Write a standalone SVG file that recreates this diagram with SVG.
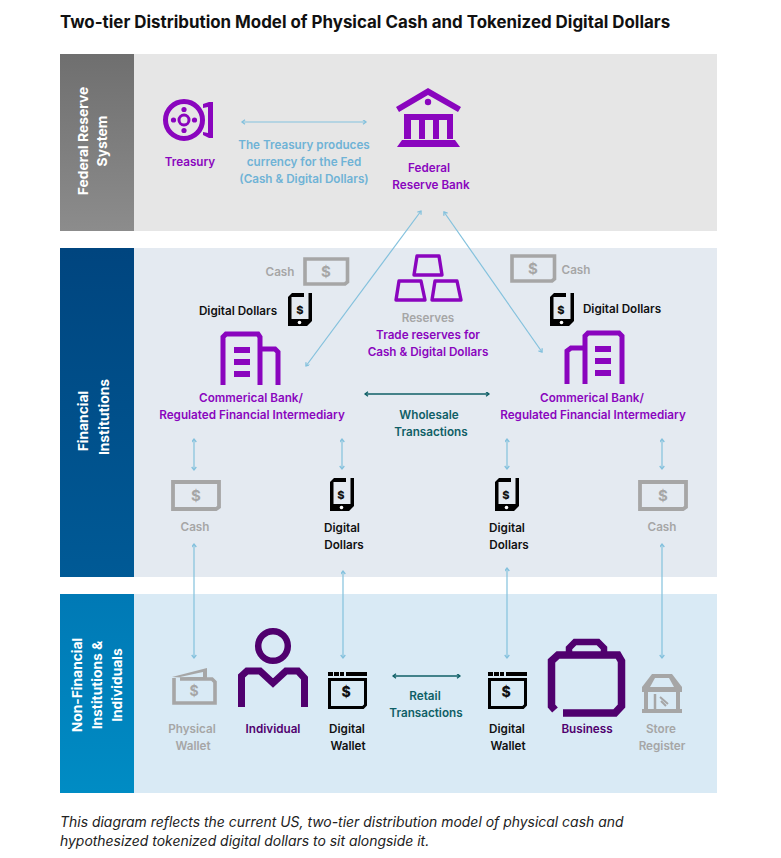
<svg xmlns="http://www.w3.org/2000/svg" width="781" height="858" viewBox="0 0 781 858">
<style>
text{font-family:"Inter","Liberation Sans",sans-serif;font-weight:600;font-size:11.700px;text-anchor:middle}
.pur{fill:#8a05be}.dpur{fill:#50006e}.gry{fill:#a6a6a6}.blk{fill:#111}.blu{fill:#6fb3d6}.teal{fill:#0f5f66}
.side{fill:#fff;font-size:13.800px;font-weight:700}
.d{font-size:15px;font-weight:700}
.p{font-size:11px;font-weight:800}
.w{font-size:14px;font-weight:800}
.ln{stroke:#83c1dd;stroke-width:1.200;fill:none;marker-start:url(#a);marker-end:url(#a)}
.tl{stroke:#0f5f66;stroke-width:1.300;fill:none;marker-start:url(#t);marker-end:url(#t)}
</style>
<defs>
<marker id="a" markerWidth="6" markerHeight="6" refX="4" refY="2.500" orient="auto-start-reverse" markerUnits="userSpaceOnUse"><path d="M1 0.200L4 2.500L1 4.800" fill="none" stroke="#83c1dd" stroke-width="1.300"/></marker>
<marker id="t" markerWidth="6" markerHeight="6" refX="4" refY="2.500" orient="auto-start-reverse" markerUnits="userSpaceOnUse"><path d="M1 0.200L4 2.500L1 4.800" fill="none" stroke="#0f5f66" stroke-width="1.300"/></marker>
<linearGradient id="g1" x1="0" y1="0" x2="0" y2="1"><stop offset="0" stop-color="#6f6f6f"/><stop offset="1" stop-color="#8c8c8c"/></linearGradient>
<linearGradient id="g2" x1="0" y1="0" x2="0" y2="1"><stop offset="0" stop-color="#00457f"/><stop offset="1" stop-color="#005a96"/></linearGradient>
<linearGradient id="g3" x1="0" y1="0" x2="0" y2="1"><stop offset="0" stop-color="#0079b5"/><stop offset="1" stop-color="#008cc4"/></linearGradient>
<g id="cash"><path d="M2 2H44.500V25L42 27H2Z" fill="none" stroke="#a6a6a6" stroke-width="3.600"/></g>
<g id="cash2"><path d="M2 2H48V27L45 29H2Z" fill="none" stroke="#a6a6a6" stroke-width="3.800"/></g>
<g id="phone"><path d="M4 0H16V4H3.500V26H20.500V0H24V28L19 33H0V4Z" fill="#000"/><circle cx="11.500" cy="29.500" r="1.800" fill="#fff"/></g>
<g id="wal"><path d="M0 0H5V4H0ZM6 0H11V4H6ZM12 0H16V4H12ZM18 0H39V4H18Z" fill="#000"/><path d="M1.500 7.500H37.500V33L35 35.500H1.500Z" fill="none" stroke="#000" stroke-width="3"/></g>
</defs>
<rect width="781" height="858" fill="#fff"/>
<text x="60" y="28" style="text-anchor:start;font-size:16.900px;font-weight:700" fill="#111">Two-tier Distribution Model of Physical Cash and Tokenized Digital Dollars</text>

<g id="bands">
<rect x="60" y="54" width="657" height="177" fill="#e6e6e6"/><rect x="60" y="54" width="74" height="177" fill="url(#g1)"/>
<rect x="60" y="248" width="657" height="329" fill="#e4eaf1"/><rect x="60" y="248" width="74" height="329" fill="url(#g2)"/>
<rect x="60" y="594" width="657" height="199" fill="#d9eaf5"/><rect x="60" y="594" width="74" height="199" fill="url(#g3)"/>
<text class="side" transform="translate(88 141) rotate(-90)">Federal Reserve</text>
<text class="side" transform="translate(107 141) rotate(-90)">System</text>
<text class="side" transform="translate(88 421) rotate(-90)">Financial</text>
<text class="side" transform="translate(109 417) rotate(-90)">Institutions</text>
<text class="side" transform="translate(82 685) rotate(-90)">Non-Financial</text>
<text class="side" transform="translate(102 685) rotate(-90)">Institutions &amp;</text>
<text class="side" transform="translate(122 685) rotate(-90)">Individuals</text>
</g>

<g id="connectors">
<path class="ln" d="M242 122H366"/>
<path class="ln" d="M421 211L306 366"/>
<path class="ln" d="M444 212L542 352"/>
<path class="tl" d="M365 394H489"/>
<path class="tl" d="M393 676H460"/>
<path class="ln" d="M194 439V470"/><path class="ln" d="M342 439V469"/><path class="ln" d="M507 439V469"/><path class="ln" d="M662 439V469"/>
<path class="ln" d="M194 544V658"/><path class="ln" d="M343 571V658"/><path class="ln" d="M507 568V658"/><path class="ln" d="M662 544V658"/>
</g>

<g id="treasury">
<circle cx="184" cy="120" r="18.500" fill="none" stroke="#8a05be" stroke-width="5"/>
<circle cx="184" cy="120" r="5" fill="none" stroke="#8a05be" stroke-width="3"/>
<circle cx="184" cy="109.500" r="2.600" class="pur"/><circle cx="184" cy="130.500" r="2.600" class="pur"/><circle cx="173.500" cy="120" r="2.600" class="pur"/><circle cx="194.500" cy="120" r="2.600" class="pur"/>
<path d="M203 104L209 102H213V138H209L203 135V132L208 133V107L203 108Z" class="pur"/>
<text x="190" y="165.500" class="pur">Treasury</text>
</g>

<g id="treasury-note">
<text x="304" y="148.500" class="blu">The Treasury produces</text>
<text x="304" y="165.500" class="blu">currency for the Fed</text>
<text x="304" y="182.500" class="blu">(Cash &amp; Digital Dollars)</text>
</g>

<g id="federal-reserve-bank">
<path d="M396 107L428 88L461 107L458 112L428 95L399 112Z" class="pur"/>
<circle cx="428" cy="102" r="3.200" class="pur"/>
<path d="M404 114H453V139H447V120H439V139H433V120H425V139H419V120H411V139H404Z" class="pur"/>
<path d="M402 140H455L460 147H397Z" class="pur"/>
<text x="429" y="171.500" class="pur">Federal</text>
<text x="431" y="188.500" class="pur">Reserve Bank</text>
</g>

<g id="cash-left">
<text x="280" y="275.500" class="gry">Cash</text>
<use href="#cash" x="303" y="257"/><text x="326" y="277" class="gry d">$</text>
</g>
<g id="digital-left">
<text x="238" y="314.500" class="blk">Digital Dollars</text>
<use href="#phone" x="288" y="293"/><text x="300" y="314" class="blk p">$</text>
</g>
<g id="bank-left">
<path d="M223 385V337L226 334H258L260 337V385M262 349H275L278 352V385" fill="none" stroke="#8a05be" stroke-width="5"/>
<path d="M234 347H250V353H234ZM234 359H250V365H234ZM234 371H250V377H234Z" class="pur"/>
<text x="251" y="401.500" class="pur">Commerical Bank/</text>
<text x="252" y="418.500" class="pur">Regulated Financial Intermediary</text>
</g>

<g id="reserves">
<path d="M417 256H439L442 275H414Z M399 281H421L425 300H396Z M435 281H457L461 300H432Z" fill="none" stroke="#8a05be" stroke-width="3.400" stroke-linejoin="round"/>
<text x="428" y="321.500" class="gry">Reserves</text>
<text x="428" y="338.500" class="pur">Trade reserves for</text>
<text x="428" y="355.500" class="pur">Cash &amp; Digital Dollars</text>
</g>

<g id="cash-right">
<use href="#cash" x="510" y="254"/><text x="533" y="274" class="gry d">$</text>
<text x="576" y="273.500" class="gry">Cash</text>
</g>
<g id="digital-right">
<use href="#phone" x="550" y="293"/><text x="561" y="314" class="blk p">$</text>
<text x="622" y="312.500" class="blk">Digital Dollars</text>
</g>
<g id="bank-right">
<path d="M622 384V336L619 333H588L585 336V384M583 348H571L567 351V384" fill="none" stroke="#8a05be" stroke-width="5"/>
<path d="M595 346H611V352H595ZM595 358H611V364H595ZM595 370H611V376H595Z" class="pur"/>
<text x="592" y="401.500" class="pur">Commerical Bank/</text>
<text x="593" y="418.500" class="pur">Regulated Financial Intermediary</text>
</g>

<g id="wholesale">
<text x="429" y="418.500" class="teal">Wholesale</text>
<text x="431" y="435.500" class="teal">Transactions</text>
</g>

<g id="fi-cash-left">
<use href="#cash2" x="171" y="480"/><text x="196" y="501" class="gry d">$</text>
<text x="195" y="530.500" class="gry">Cash</text>
</g>
<g id="fi-digital-left">
<use href="#phone" x="330" y="478"/><text x="341" y="499" class="blk p">$</text>
<text x="342" y="531.500" class="blk">Digital</text><text x="344" y="548.500" class="blk">Dollars</text>
</g>
<g id="fi-digital-right">
<use href="#phone" x="495" y="478"/><text x="506" y="499" class="blk p">$</text>
<text x="507" y="531.500" class="blk">Digital</text><text x="509" y="548.500" class="blk">Dollars</text>
</g>
<g id="fi-cash-right">
<use href="#cash2" x="638" y="480"/><text x="663" y="501" class="gry d">$</text>
<text x="662" y="530.500" class="gry">Cash</text>
</g>

<g id="physical-wallet">
<path d="M174 678V703H215V682L212 679H180" fill="none" stroke="#a6a6a6" stroke-width="3.600"/>
<path d="M172 677L207 668V679Z" fill="#a6a6a6"/><path d="M180 677L203 672V677Z" fill="#d9eaf5"/>
<text x="194" y="696" class="gry" style="font-size:14px;font-weight:700">$</text>
<text x="192" y="732.500" class="gry">Physical</text><text x="193" y="749.500" class="gry">Wallet</text>
</g>
<g id="individual">
<circle cx="273" cy="646" r="14.800" fill="none" stroke="#50006e" stroke-width="6.500"/>
<path d="M241.500 707V676L247 671H260L273 683L286 671H298L304.500 678V707" fill="none" stroke="#50006e" stroke-width="7"/>
<text x="273" y="732.500" class="dpur">Individual</text>
</g>
<g id="wallet-left">
<use href="#wal" x="328" y="672"/><text x="346" y="697" class="blk w">$</text>
<text x="347" y="732.500" class="blk">Digital</text><text x="348" y="749.500" class="blk">Wallet</text>
</g>
<g id="retail">
<text x="425" y="699.500" class="teal">Retail</text>
<text x="426" y="716.500" class="teal">Transactions</text>
</g>
<g id="wallet-right">
<use href="#wal" x="488" y="672"/><text x="506" y="697" class="blk w">$</text>
<text x="507" y="732.500" class="blk">Digital</text><text x="508" y="749.500" class="blk">Wallet</text>
</g>
<g id="business">
<path d="M555 710L551.500 706V661L558 655H618L621.500 661V706L615 713H563" fill="none" stroke="#50006e" stroke-width="7.500"/>
<path d="M569 654V648L575 642H598L604 648V654" fill="none" stroke="#50006e" stroke-width="6.500"/>
<text x="587" y="732.500" class="dpur">Business</text>
</g>
<g id="store-register">
<path d="M642 687V692H682V687L672 674H652Z" fill="#a6a6a6"/><path d="M650 687L655 678H669L674 687Z" fill="#d9eaf5"/>
<path d="M646 692V711M678 692V711" stroke="#a6a6a6" stroke-width="4"/>
<rect x="642" y="709" width="40" height="4" fill="#a6a6a6"/>
<path d="M655 694V709" stroke="#a6a6a6" stroke-width="2.500"/>
<path d="M660 697L668 704M661 701L666 706" stroke="#a6a6a6" stroke-width="2"/>
<text x="661" y="732.500" class="gry">Store</text><text x="662" y="749.500" class="gry">Register</text>
</g>

<g id="caption">
<text x="60" y="827" style="text-anchor:start;font-size:13.950px;font-weight:400;font-style:italic" fill="#222">This diagram reflects the current US, two-tier distribution model of physical cash and</text>
<text x="60" y="846" style="text-anchor:start;font-size:13.950px;font-weight:400;font-style:italic" fill="#222">hypothesized tokenized digital dollars to sit alongside it.</text>
</g>
</svg>
